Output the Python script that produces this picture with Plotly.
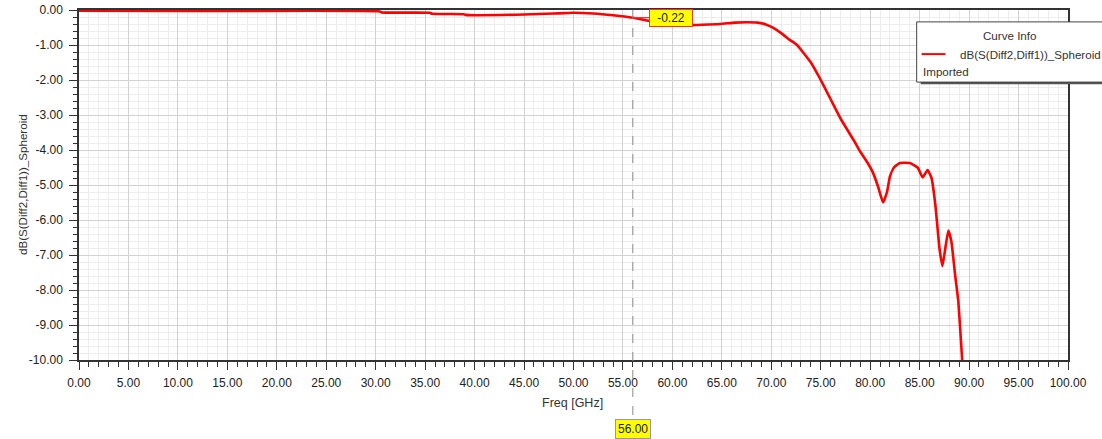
import plotly.graph_objects as go

# Insertion loss of the differential channel, imported from the solver
freq_ghz = [0, 11.5, 30.4, 30.6, 35.5, 35.7, 38.9, 39.1, 45, 48, 50, 52, 54, 56,
            58, 60, 61.6, 63, 64.8, 66.3, 67.5, 68.6, 69.5, 70.2, 71, 71.9, 72.6,
            74, 75, 76, 77, 77.7, 78.5, 79, 79.7, 80.3, 80.8, 81.3, 81.7, 82.0,
            82.4, 83.0, 84.0, 84.8, 85.3, 85.8, 86.2, 86.6, 87.0, 87.3, 87.6,
            87.9, 88.2, 88.6, 88.9, 89.3]
s21_db = [-0.02, -0.03, -0.04, -0.07, -0.08, -0.11, -0.12, -0.14, -0.13, -0.10,
          -0.08, -0.10, -0.15, -0.22, -0.33, -0.41, -0.43, -0.42, -0.40, -0.36,
          -0.35, -0.36, -0.42, -0.51, -0.66, -0.86, -1.0, -1.5, -2.0, -2.55,
          -3.1, -3.43, -3.8, -4.05, -4.35, -4.66, -5.05, -5.5, -5.2, -4.75,
          -4.5, -4.37, -4.37, -4.5, -4.78, -4.57, -4.8, -5.6, -6.8, -7.32,
          -6.8, -6.3, -6.6, -7.6, -8.3, -10.0]

trace_name = "dB(S(Diff2,Diff1))_Spheroid"
marker_freq = 56.0
marker_value = -0.22

x_ticks = [i * 5 for i in range(21)]
x_tick_text = [f"{v:.2f}" for v in x_ticks]
y_ticks = [-i for i in range(11)]
y_tick_text = [f"{v:.2f}" for v in y_ticks]

font_family = "Liberation Sans, Arial, sans-serif"
tick_color = "#222222"

fig = go.Figure()
fig.add_trace(go.Scatter(
    x=freq_ghz, y=s21_db, mode="lines", name=trace_name,
    line=dict(color="#ff0000", width=2.6, shape="spline", smoothing=0.4),
    showlegend=False, hoverinfo="x+y",
))

axis_common = dict(
    showline=True, linecolor="#333333", linewidth=1.5, mirror=True,
    ticks="outside", ticklen=8, tickwidth=1.3, tickcolor="#333333",
    showgrid=True, gridcolor="#d2d2d2", gridwidth=1, zeroline=False,
    automargin=False,
    tickfont=dict(family=font_family, size=12, color=tick_color),
)

fig.update_xaxes(
    range=[0, 100], tickvals=x_ticks, ticktext=x_tick_text,
    minor=dict(dtick=1, tick0=0, ticks="outside", ticklen=5, tickcolor="#333333",
               showgrid=True, gridcolor="#ededed", gridwidth=1),
    ticklabelstandoff=3,
    **axis_common,
)
fig.update_yaxes(
    range=[-10, 0], tickvals=y_ticks, ticktext=y_tick_text,
    minor=dict(dtick=0.2, tick0=0, ticks="outside", ticklen=4, tickcolor="#333333",
               showgrid=True, gridcolor="#ededed", gridwidth=1),
    ticklabelstandoff=4,
    **axis_common,
)

shapes = [
    # marker line at the cursor frequency
    dict(type="line", xref="x", yref="paper", x0=marker_freq, x1=marker_freq,
         y0=1, y1=-0.163, line=dict(color="#8a8a8a", width=1, dash="dash")),
    # curve info box (shadow + body)
    dict(type="rect", xref="paper", yref="paper", x0=0.851, x1=1.05,
         y0=0.788, y1=0.962, line=dict(width=0), fillcolor="#555555"),
    dict(type="rect", xref="paper", yref="paper", x0=0.847, x1=1.05,
         y0=0.794, y1=0.966, line=dict(color="#444444", width=1),
         fillcolor="white"),
    dict(type="line", xref="paper", yref="paper", x0=0.852, x1=0.876,
         y0=0.874, y1=0.874, line=dict(color="#ff0000", width=2)),
]

text_font = dict(family=font_family, size=11.6, color="#333333")

annotations = [
    dict(x=marker_freq, y=marker_value, xref="x", yref="y",
         text=f"{marker_value:.2f}", showarrow=True, arrowhead=0,
         arrowwidth=1.2, arrowcolor="#ff3030", ax=38, ay=0,
         width=40, height=14, align="center",
         bgcolor="#ffff00", bordercolor="#ff3030", borderwidth=1, borderpad=1,
         font=dict(family=font_family, size=12, color="#222222")),
    dict(x=marker_freq, y=-0.196, xref="x", yref="paper", yanchor="middle",
         text=f"{marker_freq:.2f}", showarrow=False,
         bgcolor="#ffff00", bordercolor="#999999", borderwidth=1, borderpad=2,
         font=dict(family=font_family, size=12, color="#222222")),
    dict(x=0.4985, y=-0.123, xref="paper", yref="paper", xanchor="center",
         yanchor="middle", text="Freq [GHz]", showarrow=False,
         font=dict(family=font_family, size=12.5, color="#333333")),
    dict(x=-0.0576, y=0.5, xref="paper", yref="paper", xanchor="center",
         yanchor="middle", text=trace_name, textangle=-90, showarrow=False,
         font=text_font),
    dict(x=0.941, y=0.928, xref="paper", yref="paper", text="Curve Info",
         showarrow=False, xanchor="center", yanchor="middle", font=text_font),
    dict(x=0.889, y=0.874, xref="paper", yref="paper", text=trace_name,
         showarrow=False, xanchor="left", yanchor="middle", font=text_font),
    dict(x=0.851, y=0.823, xref="paper", yref="paper", text="Imported",
         showarrow=False, xanchor="left", yanchor="middle", font=text_font),
]

fig.update_layout(
    width=1102, height=439,
    margin=dict(l=79, r=34, t=10, b=79, autoexpand=False),
    paper_bgcolor="white", plot_bgcolor="white",
    shapes=shapes, annotations=annotations,
    font=dict(family=font_family),
)

fig.write_html("out.html")
